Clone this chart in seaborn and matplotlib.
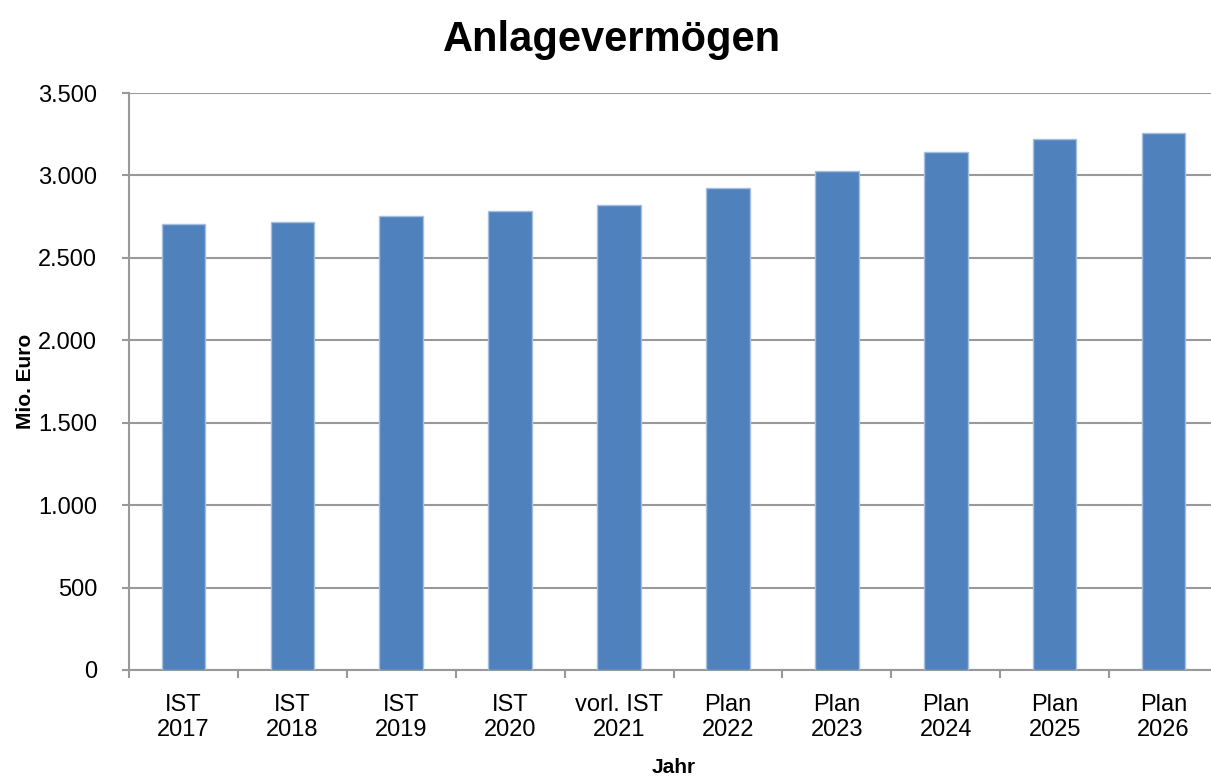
import numpy as np
import pandas as pd
import seaborn as sns
import matplotlib.pyplot as plt
from matplotlib.ticker import FuncFormatter, FixedLocator

# values (Mio. Euro)
categories = ['IST\n2017', 'IST\n2018', 'IST\n2019', 'IST\n2020', 'vorl. IST\n2021',
              'Plan\n2022', 'Plan\n2023', 'Plan\n2024', 'Plan\n2025', 'Plan\n2026']
values = [2707, 2717, 2751, 2786, 2820, 2923, 3026, 3140, 3218, 3257]
y_ticks = [0, 500, 1000, 1500, 2000, 2500, 3000, 3500]

sns.set_style('white')
plt.rcParams['font.family'] = ['Liberation Sans Narrow', 'Liberation Sans', 'DejaVu Sans']
plt.rcParams['text.color'] = 'black'
plt.rcParams['xtick.labelcolor'] = 'black'
plt.rcParams['ytick.labelcolor'] = 'black'
plt.rcParams['axes.labelcolor'] = 'black'

df = pd.DataFrame({'Jahr': categories, 'Wert': values})

fig = plt.figure(figsize=(12.11, 7.82), dpi=100)
ax = fig.add_axes([129 / 1211, 1 - 670 / 782, 1089 / 1211, 577 / 782])

sns.barplot(data=df, x='Jahr', y='Wert', color='#4F81BD', saturation=1,
            width=0.4, edgecolor='#A7BFDE', linewidth=1, ax=ax, zorder=3)

grid_col = '#999999'
ax.set_ylim(0, 3500)
ax.set_xlim(-0.5, len(categories) - 0.5)
ax.yaxis.set_major_locator(FixedLocator(y_ticks))
ax.yaxis.set_major_formatter(FuncFormatter(lambda v, p: f'{int(v):,}'.replace(',', '.')))
ax.grid(axis='y', color=grid_col, linewidth=1.5, zorder=0)

# category separators as ticks on the x axis
ax.xaxis.set_minor_locator(FixedLocator(np.arange(-0.5, len(categories), 1.0)))
ax.tick_params(axis='x', which='major', length=0, pad=17, labelsize=17)
ax.tick_params(axis='x', which='minor', direction='out', length=6, width=1.5, color=grid_col, bottom=True)
ax.tick_params(axis='y', direction='out', length=5, width=1.5, color=grid_col, pad=18, labelsize=17, left=True)

for side in ['top', 'right']:
    ax.spines[side].set_visible(False)
for side in ['left', 'bottom']:
    ax.spines[side].set_color(grid_col)
    ax.spines[side].set_linewidth(1.5)

ax.set_xlabel('Jahr', fontsize=15, fontweight='bold', labelpad=12)
ax.set_ylabel('Mio. Euro', fontsize=15, fontweight='bold', labelpad=2)
fig.suptitle('Anlagevermögen', x=0.505, y=0.975, fontsize=30, fontweight='bold')

fig.savefig('out.png', dpi=100)
